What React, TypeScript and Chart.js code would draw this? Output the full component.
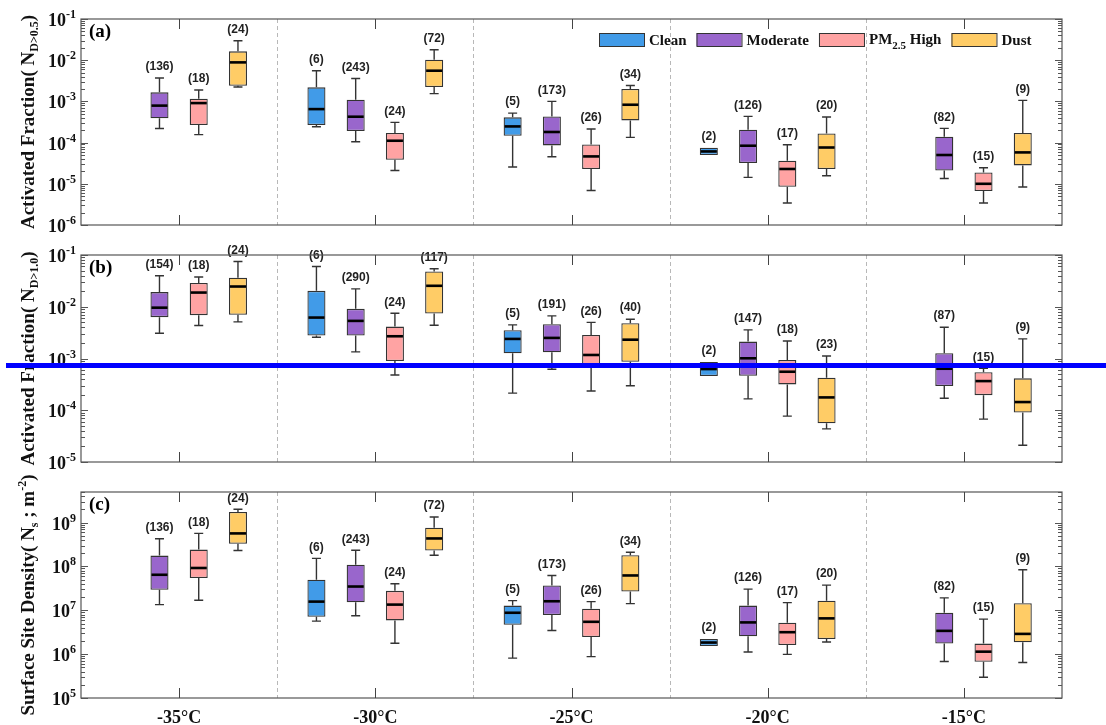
import React, { useEffect, useRef } from 'react';
import { Chart, registerables } from 'chart.js';
Chart.register(...registerables);

type Stat = [number, number, number, number, number] | null; // [min, q1, median, q3, max]

const temperatures = ['-35°C', '-30°C', '-25°C', '-20°C', '-15°C'];
const groups = ['Clean', 'Moderate', 'PM2.5 High', 'Dust'];
const fillColors = ['#419BE8', '#9966CC', '#FFA3A3', '#FFCC66'];

// Panel (a): Activated fraction N(D>0.5)
const aClean: Stat[] = [null, [2.43e-4, 2.67e-4, 6.5e-4, 2.19e-3, 5.56e-3], [2.56e-5, 1.47e-4, 2.47e-4, 4.1e-4, 5.2e-4], [5.0e-5, 5.0e-5, 6.1e-5, 7.5e-5, 7.5e-5], null];
const aModerate: Stat[] = [[2.2e-4, 3.9e-4, 7.9e-4, 1.66e-3, 3.7e-3], [1.05e-4, 1.91e-4, 4.25e-4, 1.1e-3, 3.6e-3], [4.55e-5, 8.55e-5, 1.81e-4, 4.33e-4, 1.0e-3], [1.43e-5, 3.2e-5, 8.4e-5, 2.06e-4, 4.33e-4], [1.35e-5, 2.11e-5, 5.0e-5, 1.39e-4, 2.21e-4]];
const aPM: Stat[] = [[1.56e-4, 2.67e-4, 9.1e-4, 1.16e-3, 1.89e-3], [2.11e-5, 3.85e-5, 1.11e-4, 1.71e-4, 3.09e-4], [6.9e-6, 2.29e-5, 4.62e-5, 9.04e-5, 2.14e-4], [3.42e-6, 8.5e-6, 2.29e-5, 3.64e-5, 8.9e-5], [3.42e-6, 6.7e-6, 1.0e-5, 1.89e-5, 2.46e-5]];
const aDust: Stat[] = [[2.24e-3, 2.4e-3, 8.85e-3, 1.64e-2, 2.97e-2], [1.54e-3, 2.24e-3, 5.56e-3, 1.03e-2, 1.8e-2], [1.34e-4, 3.46e-4, 8.3e-4, 2.0e-3, 2.44e-3], [1.57e-5, 2.29e-5, 7.6e-5, 1.67e-4, 4.18e-4], [8.36e-6, 2.8e-5, 5.78e-5, 1.71e-4, 1.06e-3]];
const aCounts: (number | null)[][] = [[null, 6, 5, 2, null], [136, 243, 173, 126, 82], [18, 24, 26, 17, 15], [24, 72, 34, 20, 9]];

// Panel (b): Activated fraction N(D>1.0)
const bClean: Stat[] = [null, [2.58e-3, 2.77e-3, 6.18e-3, 2.03e-2, 6.0e-2], [2.14e-4, 1.26e-3, 2.39e-3, 3.52e-3, 4.46e-3], [4.58e-4, 4.58e-4, 6.25e-4, 8.55e-4, 8.55e-4], null];
const bModerate: Stat[] = [[3.08e-3, 6.3e-3, 9.6e-3, 1.92e-2, 3.97e-2], [1.34e-3, 2.77e-3, 5.33e-3, 9.1e-3, 2.22e-2], [6.18e-4, 1.32e-3, 2.5e-3, 4.6e-3, 6.67e-3], [1.66e-4, 4.64e-4, 1.01e-3, 2.12e-3, 3.57e-3], [1.71e-4, 2.93e-4, 6.34e-4, 1.26e-3, 4.03e-3]];
const bPM: Stat[] = [[4.33e-3, 6.88e-3, 1.88e-2, 2.87e-2, 3.75e-2], [4.79e-4, 8.95e-4, 2.69e-3, 4.13e-3, 7.5e-3], [2.36e-4, 7.2e-4, 1.17e-3, 2.85e-3, 4.99e-3], [7.7e-5, 3.16e-4, 5.55e-4, 9.35e-4, 2.18e-3], [6.74e-5, 1.96e-4, 3.66e-4, 5.41e-4, 6.46e-4]];
const bDust: Stat[] = [[5.1e-3, 6.97e-3, 2.46e-2, 3.63e-2, 7.5e-2], [4.4e-3, 7.38e-3, 2.54e-2, 4.81e-2, 5.42e-2], [2.97e-4, 8.67e-4, 2.31e-3, 4.81e-3, 5.75e-3], [4.36e-5, 5.6e-5, 1.77e-4, 4.25e-4, 1.12e-3], [2.11e-5, 9.06e-5, 1.44e-4, 4.13e-4, 2.39e-3]];
const bCounts: (number | null)[][] = [[null, 6, 5, 2, null], [154, 290, 191, 147, 87], [18, 24, 26, 18, 15], [24, 117, 40, 23, 9]];

// Panel (c): Surface site density Ns (m^-2)
const cClean: Stat[] = [null, [5.67e6, 7.13e6, 1.58e7, 4.97e7, 1.53e8], [8.1e5, 4.67e6, 8.8e6, 1.28e7, 1.66e7], [1.53e6, 1.53e6, 1.84e6, 2.22e6, 2.22e6], null];
const cModerate: Stat[] = [[1.35e7, 2.93e7, 6.47e7, 1.77e8, 4.29e8], [7.52e6, 1.53e7, 3.49e7, 1.1e8, 2.34e8], [3.47e6, 7.8e6, 1.61e7, 3.68e7, 6.24e7], [1.12e6, 2.56e6, 5.3e6, 1.28e7, 3.04e7], [6.82e5, 1.74e6, 3.4e6, 8.8e6, 1.92e7]];
const cPM: Stat[] = [[1.7e7, 5.45e7, 9.24e7, 2.43e8, 5.68e8], [1.77e6, 5.89e6, 1.35e7, 2.78e7, 4.03e7], [8.77e5, 2.47e6, 5.47e6, 1.09e7, 1.58e7], [9.9e5, 1.62e6, 3.17e6, 5.19e6, 1.5e7], [2.98e5, 6.73e5, 1.14e6, 1.74e6, 6.31e6]];
const cDust: Stat[] = [[2.31e8, 3.29e8, 5.68e8, 1.75e9, 2.02e9], [1.8e8, 2.31e8, 4.36e8, 7.68e8, 1.34e9], [1.42e7, 2.68e7, 6.24e7, 1.8e8, 2.11e8], [1.9e6, 2.22e6, 6.55e6, 1.66e7, 3.76e7], [6.47e5, 1.87e6, 2.9e6, 1.45e7, 8.44e7]];
const cCounts: (number | null)[][] = [[null, 6, 5, 2, null], [136, 243, 173, 126, 82], [18, 24, 26, 17, 15], [24, 72, 34, 20, 9]];

const SERIF = '"Liberation Serif", "Times New Roman", serif';
const SANS = '"Liberation Sans", Arial, sans-serif';

type Part = { t: string; size: number; dy: number };

function drawRich(ctx: CanvasRenderingContext2D, parts: Part[], x: number, y: number, align: 'left' | 'center' | 'right', family = SERIF) {
  const widths = parts.map((p) => {
    ctx.font = `bold ${p.size}px ${family}`;
    return ctx.measureText(p.t).width;
  });
  const total = widths.reduce((s, w) => s + w, 0);
  let cx = align === 'center' ? x - total / 2 : align === 'right' ? x - total : x;
  ctx.textAlign = 'left';
  ctx.textBaseline = 'alphabetic';
  parts.forEach((p, i) => {
    ctx.font = `bold ${p.size}px ${family}`;
    ctx.fillText(p.t, cx, y + p.dy);
    cx += widths[i];
  });
  return total;
}

interface PanelCfg {
  id: string;
  letter: string;
  stats: Stat[][];
  counts: (number | null)[][];
  min: number;
  max: number;
  title: Part[];
  legend: boolean;
  xLabels: boolean;
  top: number;
  height: number;
  padTop: number;
  xHeight: number;
}

const legendParts: Part[][] = [
  [{ t: 'Clean', size: 15, dy: 0 }],
  [{ t: 'Moderate', size: 15, dy: 0 }],
  [{ t: 'PM', size: 15, dy: -1 }, { t: '2.5', size: 11, dy: 4 }, { t: ' High', size: 15, dy: -1 }],
  [{ t: 'Dust', size: 15, dy: 0 }],
];

function makePlugin(cfg: PanelCfg) {
  return {
    id: 'deco_' + cfg.id,
    beforeDatasetsDraw(chart: any) {
      const { ctx, chartArea: a } = chart;
      const x = chart.scales.x;
      ctx.save();
      ctx.strokeStyle = '#b8b8b8';
      ctx.lineWidth = 1;
      ctx.setLineDash([4, 3]);
      for (let i = 0; i < temperatures.length - 1; i++) {
        const px = Math.round((x.getPixelForValue(i) + x.getPixelForValue(i + 1)) / 2) + 0.5;
        ctx.beginPath();
        ctx.moveTo(px, a.top);
        ctx.lineTo(px, a.bottom);
        ctx.stroke();
      }
      ctx.restore();
    },
    afterDatasetsDraw(chart: any) {
      const { ctx } = chart;
      const y = chart.scales.y;
      ctx.save();
      cfg.stats.forEach((series, di) => {
        const meta = chart.getDatasetMeta(di);
        series.forEach((s, i) => {
          if (!s) return;
          const el = meta.data[i];
          if (!el) return;
          const cx = el.x;
          const w = el.width;
          const pMin = y.getPixelForValue(s[0]);
          const pQ1 = y.getPixelForValue(s[1]);
          const pMed = y.getPixelForValue(s[2]);
          const pQ3 = y.getPixelForValue(s[3]);
          const pMax = y.getPixelForValue(s[4]);
          ctx.strokeStyle = '#333';
          ctx.lineWidth = 1.4;
          ctx.setLineDash([]);
          if (pQ3 - pMax > 0.5) {
            ctx.beginPath();
            ctx.moveTo(cx, pQ3);
            ctx.lineTo(cx, pMax);
            ctx.moveTo(cx - 4.5, pMax);
            ctx.lineTo(cx + 4.5, pMax);
            ctx.stroke();
          }
          if (pMin - pQ1 > 0.5) {
            ctx.beginPath();
            ctx.moveTo(cx, pQ1);
            ctx.lineTo(cx, pMin);
            ctx.moveTo(cx - 4.5, pMin);
            ctx.lineTo(cx + 4.5, pMin);
            ctx.stroke();
          }
          ctx.strokeStyle = '#000';
          ctx.lineWidth = 2.6;
          ctx.beginPath();
          ctx.moveTo(cx - w / 2 + 1, pMed);
          ctx.lineTo(cx + w / 2 - 1, pMed);
          ctx.stroke();
          const n = cfg.counts[di][i];
          if (n != null) {
            ctx.fillStyle = '#222';
            ctx.font = `bold 12px ${SANS}`;
            ctx.textAlign = 'center';
            ctx.textBaseline = 'middle';
            ctx.fillText(`(${n})`, cx, pMax - 11);
          }
        });
      });
      ctx.restore();
    },
    afterDraw(chart: any) {
      const { ctx, chartArea: a } = chart;
      const x = chart.scales.x;
      const y = chart.scales.y;
      ctx.save();
      ctx.setLineDash([]);
      // frame
      ctx.strokeStyle = '#555';
      ctx.lineWidth = 1.2;
      ctx.strokeRect(a.left, a.top, a.right - a.left, a.bottom - a.top);
      // x ticks at category centres, top and bottom, inward
      ctx.strokeStyle = '#444';
      ctx.lineWidth = 1;
      temperatures.forEach((_, i) => {
        const px = Math.round(x.getPixelForValue(i)) + 0.5;
        ctx.beginPath();
        ctx.moveTo(px, a.top);
        ctx.lineTo(px, a.top + 10);
        ctx.moveTo(px, a.bottom);
        ctx.lineTo(px, a.bottom - 10);
        ctx.stroke();
      });
      // y ticks (major + minor), both sides, inward
      const lo = Math.floor(Math.log10(cfg.min));
      const hi = Math.ceil(Math.log10(cfg.max));
      ctx.strokeStyle = '#555';
      for (let d = lo; d <= hi; d++) {
        for (let m = 1; m <= 9; m++) {
          const v = m * Math.pow(10, d);
          if (v < cfg.min * 0.999 || v > cfg.max * 1.001) continue;
          const py = Math.round(y.getPixelForValue(v)) + 0.5;
          const len = m === 1 ? 7 : 4;
          ctx.beginPath();
          ctx.moveTo(a.left, py);
          ctx.lineTo(a.left + len, py);
          ctx.moveTo(a.right, py);
          ctx.lineTo(a.right - len, py);
          ctx.stroke();
          if (m === 1) {
            ctx.fillStyle = '#111';
            const exp = String(d);
            ctx.font = `bold 12px ${SERIF}`;
            const ew = ctx.measureText(exp).width;
            ctx.font = `bold 18px ${SERIF}`;
            const bw = ctx.measureText('10').width;
            const expX = a.left - 5 - ew;
            ctx.textAlign = 'left';
            ctx.textBaseline = 'alphabetic';
            ctx.fillText('10', expX - bw, py + 6);
            ctx.font = `bold 12px ${SERIF}`;
            ctx.fillText(exp, expX, py - 2);
          }
        }
      }
      // x labels
      if (cfg.xLabels) {
        ctx.fillStyle = '#111';
        ctx.font = `bold 18px ${SERIF}`;
        ctx.textAlign = 'center';
        ctx.textBaseline = 'middle';
        temperatures.forEach((t, i) => {
          ctx.fillText(t, x.getPixelForValue(i), a.bottom + 20);
        });
      }
      // y title (rotated)
      ctx.fillStyle = '#111';
      ctx.save();
      ctx.translate(34, (a.top + a.bottom) / 2);
      ctx.rotate(-Math.PI / 2);
      drawRich(ctx, cfg.title, 0, 0, 'center');
      ctx.restore();
      // panel letter
      ctx.fillStyle = '#000';
      ctx.font = `bold 19px ${SERIF}`;
      ctx.textAlign = 'left';
      ctx.textBaseline = 'alphabetic';
      ctx.fillText(cfg.letter, a.left + 8, a.top + 18);
      // legend
      if (cfg.legend) {
        let lx = 599;
        const ly = a.top + 14;
        groups.forEach((_, gi) => {
          ctx.fillStyle = fillColors[gi];
          ctx.fillRect(lx, ly, 45, 13);
          ctx.strokeStyle = '#333';
          ctx.lineWidth = 1;
          ctx.strokeRect(lx + 0.5, ly + 0.5, 45, 13);
          ctx.fillStyle = '#111';
          const w = drawRich(ctx, legendParts[gi], lx + 50, ly + 12, 'left');
          lx += 50 + w + 10;
        });
      }
      ctx.restore();
    },
  };
}

const panels: PanelCfg[] = [
  {
    id: 'a', letter: '(a)', stats: [aClean, aModerate, aPM, aDust], counts: aCounts, min: 1e-6, max: 1e-1,
    title: [{ t: 'Activated Fraction( N', size: 19, dy: 0 }, { t: 'D>0.5', size: 12, dy: 4 }, { t: ')', size: 19, dy: 0 }],
    legend: true, xLabels: false, top: 0, height: 240, padTop: 19, xHeight: 15,
  },
  {
    id: 'b', letter: '(b)', stats: [bClean, bModerate, bPM, bDust], counts: bCounts, min: 1e-5, max: 1e-1,
    title: [{ t: 'Activated Fraction( N', size: 19, dy: 0 }, { t: 'D>1.0', size: 12, dy: 4 }, { t: ')', size: 19, dy: 0 }],
    legend: false, xLabels: false, top: 240, height: 235, padTop: 15, xHeight: 13,
  },
  {
    id: 'c', letter: '(c)', stats: [cClean, cModerate, cPM, cDust], counts: cCounts, min: 1e5, max: 5e9,
    title: [{ t: 'Surface Site Density( N', size: 19, dy: 0 }, { t: 's', size: 12, dy: 4 }, { t: ' ; m', size: 19, dy: 0 }, { t: '-2', size: 12, dy: -8 }, { t: ')', size: 19, dy: 0 }],
    legend: false, xLabels: true, top: 475, height: 250, padTop: 17, xHeight: 27,
  },
];

function Panel({ cfg }: { cfg: PanelCfg }) {
  const ref = useRef<HTMLCanvasElement | null>(null);
  useEffect(() => {
    if (!ref.current) return;
    const chart = new Chart(ref.current, {
      type: 'bar',
      data: {
        labels: temperatures,
        datasets: groups.map((g, gi) => ({
          label: g,
          data: cfg.stats[gi].map((s) => (s ? [s[1], s[3]] : null)) as any,
          backgroundColor: fillColors[gi],
          borderColor: '#333',
          borderWidth: 1.3,
          borderSkipped: false,
          barPercentage: 0.46,
          categoryPercentage: 0.8,
        })),
      },
      options: {
        responsive: false,
        animation: false,
        devicePixelRatio: 1,
        layout: { padding: { top: cfg.padTop, right: 44, left: 0, bottom: 0 } },
        plugins: { legend: { display: false }, tooltip: { enabled: false } },
        scales: {
          x: {
            type: 'category',
            offset: true,
            grid: { display: false },
            border: { display: false },
            ticks: { display: false },
            afterFit: (s: any) => { s.height = cfg.xHeight; },
          },
          y: {
            type: 'logarithmic',
            min: cfg.min,
            max: cfg.max,
            grid: { display: false },
            border: { display: false },
            ticks: { display: false },
            afterFit: (s: any) => { s.width = 81; },
          },
        },
      } as any,
      plugins: [makePlugin(cfg)],
    });
    return () => chart.destroy();
  }, [cfg]);
  return (
    <canvas
      ref={ref}
      width={1106}
      height={cfg.height}
      style={{ position: 'absolute', left: 0, top: cfg.top, width: 1106, height: cfg.height, display: 'block' }}
    />
  );
}

export default function App() {
  return (
    <div style={{ position: 'fixed', left: 0, top: 0, width: 1106, height: 725, background: '#fff', overflow: 'hidden' }}>
      {panels.map((p) => (
        <Panel key={p.id} cfg={p} />
      ))}
      <div style={{ position: 'absolute', left: 6, top: 363, width: 1100, height: 5, background: '#0000ff' }} />
    </div>
  );
}
